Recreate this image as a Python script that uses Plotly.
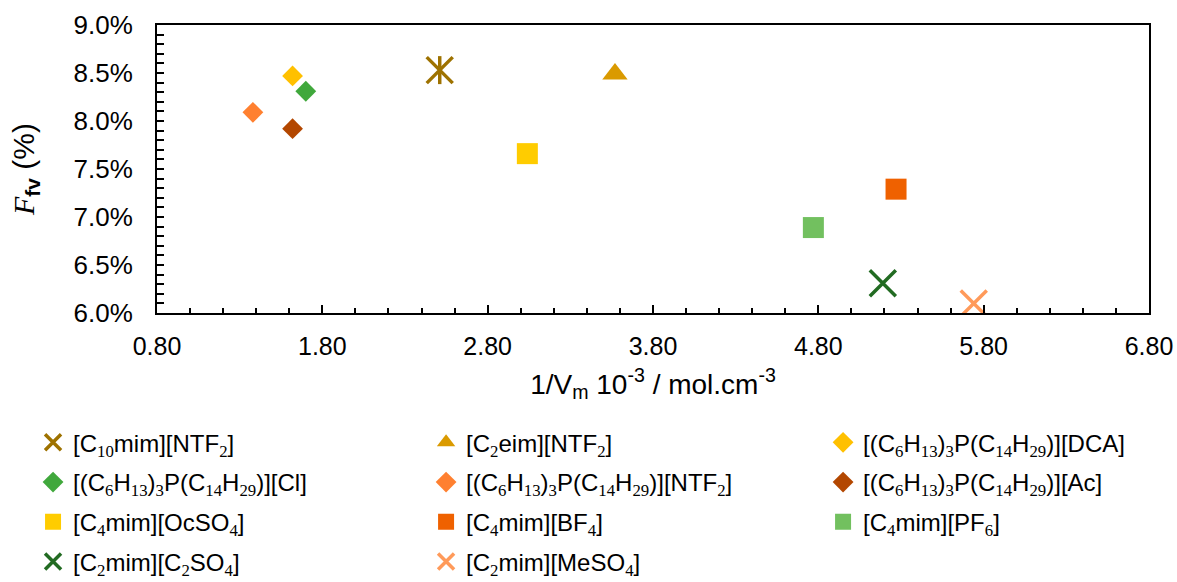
import plotly.graph_objects as go

SUB = "<sub><span style='font-family:Liberation Serif'>{}</span></sub>"

def s(t):
    return SUB.format(t)

names = [
    "[C" + s("10") + "mim][NTF" + s("2") + "]",
    "[C" + s("2") + "eim][NTF" + s("2") + "]",
    "[(C" + s("6") + "H" + s("13") + ")" + s("3") + "P(C" + s("14") + "H" + s("29") + ")][DCA]",
    "[(C" + s("6") + "H" + s("13") + ")" + s("3") + "P(C" + s("14") + "H" + s("29") + ")][Cl]",
    "[(C" + s("6") + "H" + s("13") + ")" + s("3") + "P(C" + s("14") + "H" + s("29") + ")][NTF" + s("2") + "]",
    "[(C" + s("6") + "H" + s("13") + ")" + s("3") + "P(C" + s("14") + "H" + s("29") + ")][Ac]",
    "[C" + s("4") + "mim][OcSO" + s("4") + "]",
    "[C" + s("4") + "mim][BF" + s("4") + "]",
    "[C" + s("4") + "mim][PF" + s("6") + "]",
    "[C" + s("2") + "mim][C" + s("2") + "SO" + s("4") + "]",
    "[C" + s("2") + "mim][MeSO" + s("4") + "]",
]
x_vals = [2.51, 3.57, 1.62, 1.70, 1.38, 1.62, 3.04, 5.27, 4.77, 5.19, 5.74]
y_vals = [8.53, 8.49, 8.47, 8.31, 8.09, 7.92, 7.66, 7.29, 6.89, 6.31, 6.10]
colors = ["#9E7200", "#DA9A00", "#FFC000", "#40A83C", "#FF8030", "#B34700",
          "#FFCC00", "#EF6100", "#72C05F", "#226B22", "#FF9A5A"]
symbols = ["x-thin-open", "triangle-up", "diamond", "diamond", "diamond", "diamond",
           "square", "square", "square", "x-thin-open", "x-thin-open"]
sizes = [26, 22, 16, 16, 16, 16, 21, 21, 21, 26, 26]
legend_col = ["legend", "legend2", "legend3"] * 4

x_ticks = [0.80, 1.80, 2.80, 3.80, 4.80, 5.80, 6.80]
y_ticks = [6.0, 6.5, 7.0, 7.5, 8.0, 8.5, 9.0]

fig = go.Figure()
for i in range(len(names)):
    open_sym = symbols[i].endswith("open")
    fig.add_trace(go.Scatter(
        x=[x_vals[i]], y=[y_vals[i]], mode="markers", name=names[i],
        legend=legend_col[i], legendgroup="g%d" % i,
        marker=dict(symbol=symbols[i], size=sizes[i], color=colors[i],
                    line=dict(width=3.5 if open_sym else 0, color=colors[i])),
        hoverinfo="skip",
    ))
    if i == 0:
        # vertical stroke of the star marker
        fig.add_trace(go.Scatter(
            x=[x_vals[i]], y=[y_vals[i]], mode="markers", showlegend=False,
            legend=legend_col[i], legendgroup="g%d" % i,
            marker=dict(symbol="line-ns-open", size=20, color=colors[i],
                        line=dict(width=3.5, color=colors[i])),
            hoverinfo="skip",
        ))

font_family = "Liberation Sans, Arial, sans-serif"
leg_common = dict(orientation="v", xanchor="left", yanchor="top",
                  font=dict(size=24, color="black", family=font_family),
                  tracegroupgap=5.5, bgcolor="rgba(0,0,0,0)",
                  borderwidth=5, bordercolor="rgba(0,0,0,0)",
                  itemclick=False, itemdoubleclick=False)
fig.update_layout(
    width=1177, height=582,
    margin=dict(l=157, r=28, t=25, b=269, autoexpand=False),
    paper_bgcolor="white", plot_bgcolor="white",
    font=dict(family=font_family, color="black"),
    showlegend=True,
    legend=dict(x=-0.13, y=-0.355, **leg_common),
    legend2=dict(x=0.2662, y=-0.355, **leg_common),
    legend3=dict(x=0.6664, y=-0.355, **leg_common),
    xaxis=dict(
        range=[0.80, 6.80], tickvals=x_ticks, ticktext=["%.2f" % v for v in x_ticks],
        ticks="inside", ticklen=8, tickwidth=2, tickcolor="black",
        minor=dict(dtick=0.2, tick0=0.8, ticks="inside", ticklen=5, tickwidth=2, tickcolor="black"),
        showline=True, linecolor="black", linewidth=2, mirror=True,
        showgrid=False, zeroline=False,
        tickfont=dict(size=25), ticklabelstandoff=10,
        title=dict(text="1/V<sub>m</sub> 10<sup>-3</sup> / mol.cm<sup>-3</sup>",
                   font=dict(size=28), standoff=15),
    ),
    yaxis=dict(
        range=[6.0, 9.0], tickvals=y_ticks, ticktext=["%.1f%%" % v for v in y_ticks],
        ticks="inside", ticklen=7, tickwidth=2, tickcolor="black",
        minor=dict(dtick=0.1, tick0=6.0, ticks="inside", ticklen=7, tickwidth=2, tickcolor="black"),
        showline=True, linecolor="black", linewidth=2, mirror=True,
        showgrid=False, zeroline=False,
        tickfont=dict(size=26), ticklabelstandoff=17,
        title=dict(text="<span style='font-family:Liberation Serif'><i>F</i></span><sub><b>fv</b></sub> (%)",
                   font=dict(size=30), standoff=30),
    ),
)
fig.write_html("out.html", config={"displayModeBar": False},
               post_script="document.body.style.margin='0px';")
